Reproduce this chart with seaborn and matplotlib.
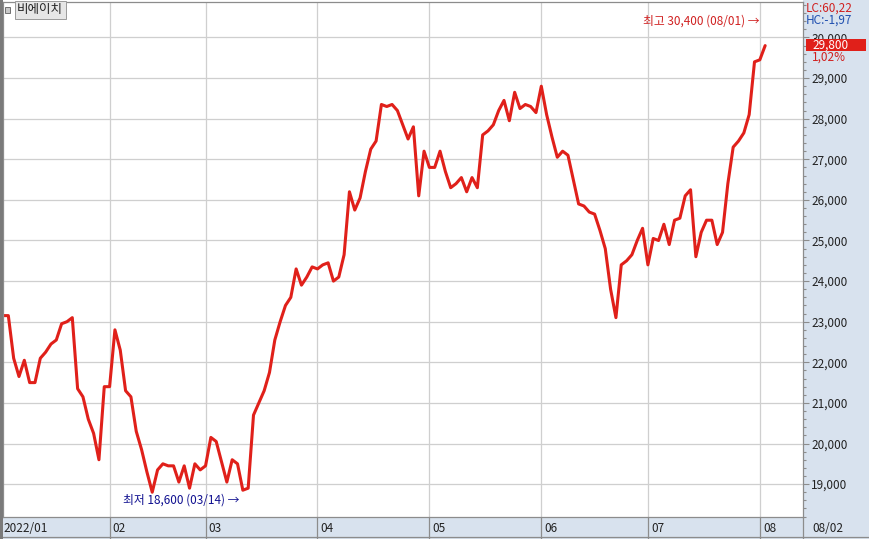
import numpy as np
import pandas as pd
import matplotlib
matplotlib.use('Agg')
import matplotlib.pyplot as plt
from matplotlib.patches import Rectangle
from matplotlib.ticker import FuncFormatter, MultipleLocator
import seaborn as sns

# Данные: цена закрытия по торговым дням (2022/01/03 - 2022/08/02)
holidays = ['2022-01-31', '2022-02-01', '2022-02-02', '2022-03-01',
            '2022-03-09', '2022-05-05', '2022-06-01', '2022-06-06']
close_prices = [
    23150, 23150, 22100, 21650, 22050, 21500, 21500, 22100, 22250, 22450,
    22550, 22950, 23000, 23100, 21350, 21150, 20600, 20250, 19600, 21400,
    21400, 22800, 22300, 21300, 21150, 20300, 19850, 19300, 18800, 19350,
    19500, 19450, 19450, 19050, 19450, 18900, 19500, 19350, 19450, 20150,
    20050, 19550, 19050, 19600, 19500, 18850, 18900, 20700, 21000, 21300,
    21750, 22550, 23000, 23400, 23600, 24300, 23900, 24100, 24350, 24300,
    24400, 24450, 24000, 24100, 24650, 26200, 25750, 26050, 26700, 27250,
    27450, 28350, 28300, 28350, 28200, 27850, 27500, 27800, 26100, 27200,
    26800, 26800, 27200, 26700, 26300, 26400, 26550, 26200, 26550, 26300,
    27600, 27700, 27850, 28200, 28450, 27950, 28650, 28250, 28350, 28300,
    28150, 28800, 28100, 27550, 27050, 27200, 27100, 26500, 25900, 25850,
    25700, 25650, 25250, 24800, 23800, 23100, 24400, 24500, 24650, 25000,
    25300, 24400, 25050, 25000, 25400, 24900, 25500, 25550, 26100, 26250,
    24600, 25200, 25500, 25500, 24900, 25200, 26400, 27300, 27450, 27650,
    28100, 29400, 29450, 29800,
]
stock_name = '비에이치'
high_value, high_date = 30400, '2022-08-01'
low_value, low_date = 18600, '2022-03-14'
lc_text, hc_text, change_text = 'LC:60,22', 'HC:-1,97', '1,02%'
y_ticks = list(range(19000, 30001, 1000))

dates = pd.bdate_range('2022-01-03', '2022-08-02')
dates = dates[~dates.isin(pd.to_datetime(holidays))]
df = pd.DataFrame({'date': dates, 'close': close_prices})
df['idx'] = np.arange(len(df))

sns.set_style('white')
plt.rcParams['font.family'] = ['Noto Sans CJK KR', 'DejaVu Sans']

W, H = 869, 539
fig = plt.figure(figsize=(W / 100, H / 100), dpi=100)

def fx(x):
    return x / W

def fy(y):
    return 1 - y / H

panel_color = '#D8E2EE'
grid_color = '#CFCFCF'
border_color = '#8C8C8C'
red = '#E0201A'

# фон правой панели и нижней полосы
fig.add_artist(Rectangle((fx(803), 0), fx(66), 1, transform=fig.transFigure,
                         facecolor=panel_color, edgecolor='none', zorder=-2))
fig.add_artist(Rectangle((0, 0), 1, 22 / H, transform=fig.transFigure,
                         facecolor=panel_color, edgecolor='none', zorder=-2))

ax = fig.add_axes([fx(3), 22 / H, 800 / W, 515 / H])
sns.lineplot(data=df, x='idx', y='close', ax=ax, color=red, linewidth=2.2)
ax.set_xlim(0, 150.1)
ax.set_ylim(18190, 30874)
ax.set_xlabel('')
ax.set_ylabel('')

# сетка
ax.set_yticks(y_ticks)
ax.yaxis.set_minor_locator(MultipleLocator(200))
ax.grid(False)
for v in y_ticks:
    ax.axhline(v, color=grid_color, linewidth=0.9, zorder=0)

month_starts = df.groupby(df['date'].dt.to_period('M'))['idx'].min()
month_labels = ['2022/01'] + [p.strftime('%m') for p in month_starts.index[1:]]
for i, (pos, lab) in enumerate(zip(month_starts.values, month_labels)):
    if i > 0:
        ax.axvline(pos, color=grid_color, linewidth=0.9, zorder=0)
        ax.plot([pos, pos], [0, -22 / 515], transform=ax.get_xaxis_transform(),
                color=border_color, linewidth=0.9, clip_on=False)
        ax.text(pos + 0.6, -11 / 515, lab, transform=ax.get_xaxis_transform(),
                ha='left', va='center', fontsize=8.5, color='#222222')
    else:
        ax.text(0.05, -11 / 515, lab, transform=ax.get_xaxis_transform(),
                ha='left', va='center', fontsize=8.5, color='#222222')
ax.set_xticks([])

ax.yaxis.tick_right()
ax.yaxis.set_major_formatter(FuncFormatter(lambda v, p: f'{v:,.0f}'))
ax.tick_params(axis='y', which='major', direction='out', length=4, width=0.8,
               color=border_color, pad=2, labelsize=8.5, labelcolor='#222222')
ax.tick_params(axis='y', which='minor', direction='out', length=2, width=0.8,
               color=border_color, right=True, left=False)

for side in ['top', 'right', 'bottom', 'left']:
    ax.spines[side].set_color(border_color)
    ax.spines[side].set_linewidth(0.9)

# тёмная полоса слева
fig.add_artist(Rectangle((0, 0), fx(3), 1, transform=fig.transFigure,
                         facecolor='#7A7A7A', edgecolor='none', zorder=3))

# подписи максимума и минимума
hi_idx = df.loc[df['date'] == high_date, 'idx'].iloc[0]
lo_idx = df.loc[df['date'] == low_date, 'idx'].iloc[0]
ax.text(hi_idx, high_value, f'최고 {high_value:,} (08/01) →', ha='right', va='center',
        fontsize=8.5, color='#D02020')
ax.text(lo_idx - 0.6, low_value, f'최저 {low_value:,} (03/14) →', ha='right', va='center',
        fontsize=8.5, color='#101090')

# правая панель: LC/HC и текущая цена
fig.text(fx(806), fy(8), lc_text, ha='left', va='center', fontsize=8.5, color='#D02020')
fig.text(fx(806), fy(20), hc_text, ha='left', va='center', fontsize=8.5, color='#2050B0')
last = df['close'].iloc[-1]
fig.add_artist(Rectangle((fx(806), fy(51)), fx(60), 12 / H, transform=fig.transFigure,
                         facecolor=red, edgecolor='none', zorder=5))
fig.text(fx(812), fy(45), f'{last:,}', ha='left', va='center', fontsize=8.5,
         color='white', zorder=6)
fig.text(fx(812), fy(57), change_text, ha='left', va='center', fontsize=8.5, color='#D02020')
fig.text(fx(812), fy(528), df['date'].iloc[-1].strftime('%m/%d'), ha='left', va='center',
         fontsize=8.5, color='#222222')
fig.add_artist(plt.Line2D([fx(803), fx(803)], [0, 22 / H], transform=fig.transFigure,
                          color=border_color, linewidth=0.9))
fig.add_artist(plt.Line2D([0, 1], [fy(537), fy(537)], transform=fig.transFigure,
                          color=border_color, linewidth=0.9))

# название в рамке
fig.add_artist(Rectangle((fx(5), fy(13)), fx(5), 6 / H, transform=fig.transFigure,
                         facecolor='#C8C8C8', edgecolor='#707070', linewidth=0.7))
fig.text(fx(17), fy(10), stock_name, ha='left', va='center', fontsize=9, color='#222222',
         bbox=dict(boxstyle='square,pad=0.2', facecolor='#E6E6E6', edgecolor='#9A9A9A',
                   linewidth=0.7))

fig.savefig('out.png', dpi=100)
